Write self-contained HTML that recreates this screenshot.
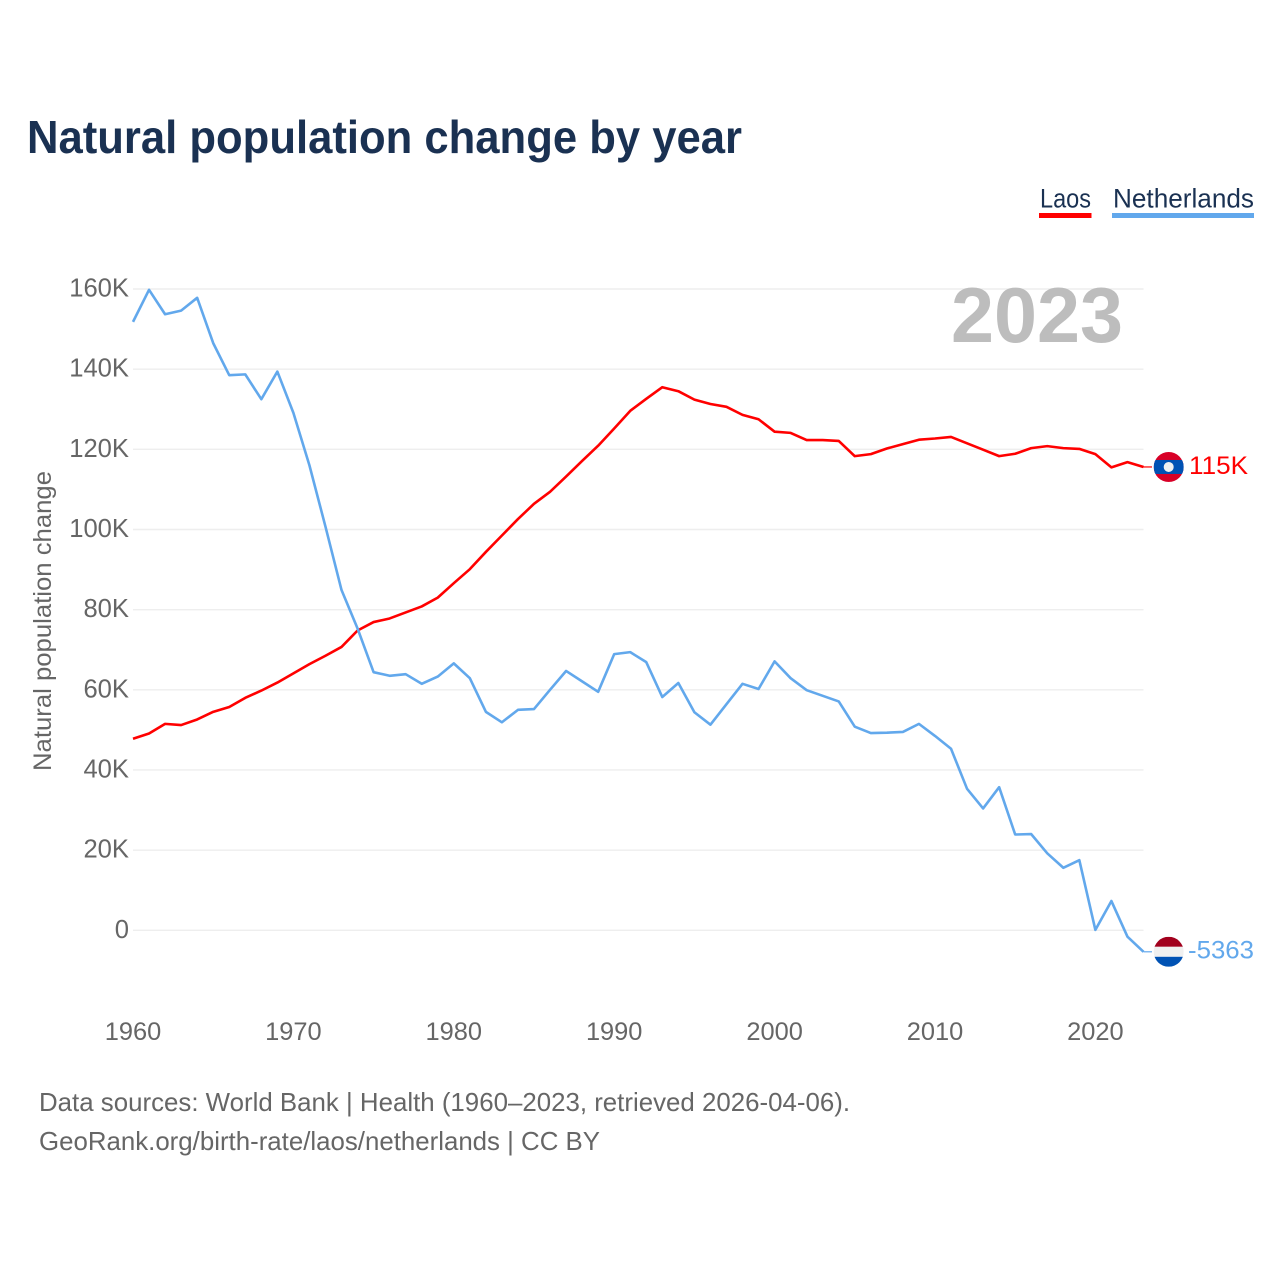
<!DOCTYPE html>
<html lang="en">
<head>
<meta charset="utf-8">
<title>Natural population change by year</title>
<style>
html,body{margin:0;padding:0;background:#fff;width:1280px;height:1280px;overflow:hidden}
svg{display:block}
text{font-family:"Liberation Sans",sans-serif}
</style>
</head>
<body>
<svg id="chart" width="1280" height="1280" viewBox="0 0 1280 1280" xmlns="http://www.w3.org/2000/svg">
  <defs>
    <clipPath id="flag-clip"><circle cx="0" cy="0" r="15"></circle></clipPath>
  </defs>
  <rect width="1280" height="1280" fill="#ffffff"></rect>
  <text x="27" y="153" font-size="46" font-weight="700" fill="#1a3152" textLength="715" lengthAdjust="spacingAndGlyphs">Natural population change by year</text>
  <g id="legend">
    <text x="1040" y="207.5" font-size="27" fill="#1a3152" textLength="51" lengthAdjust="spacingAndGlyphs">Laos</text>
    <rect x="1039" y="213" width="52.5" height="5" fill="#ff0000"></rect>
    <text x="1113" y="207.5" font-size="27" fill="#1a3152" textLength="141" lengthAdjust="spacingAndGlyphs">Netherlands</text>
    <rect x="1112" y="213" width="142" height="5" fill="#62a8ec"></rect>
  </g>
  <g id="grid"></g>
  <g id="y-axis"></g>
  <g id="x-axis"></g>
  <text x="951" y="342" font-size="78" font-weight="700" fill="#bdbdbd" textLength="172" lengthAdjust="spacingAndGlyphs">2023</text>
  <text transform="translate(51,621) rotate(-90)" text-anchor="middle" font-size="25" fill="#666666" textLength="300" lengthAdjust="spacingAndGlyphs">Natural population change</text>
  <g id="series"></g>
  <text x="39" y="1111" font-size="26" fill="#666666" textLength="811" lengthAdjust="spacingAndGlyphs">Data sources: World Bank | Health (1960–2023, retrieved 2026-04-06).</text>
  <text x="39" y="1150" font-size="26" fill="#666666" textLength="561" lengthAdjust="spacingAndGlyphs">GeoRank.org/birth-rate/laos/netherlands | CC BY</text>
</svg>
<script>
const years = [1960,1961,1962,1963,1964,1965,1966,1967,1968,1969,1970,1971,1972,1973,1974,1975,1976,1977,1978,1979,1980,1981,1982,1983,1984,1985,1986,1987,1988,1989,1990,1991,1992,1993,1994,1995,1996,1997,1998,1999,2000,2001,2002,2003,2004,2005,2006,2007,2008,2009,2010,2011,2012,2013,2014,2015,2016,2017,2018,2019,2020,2021,2022,2023];
const laosValues = [47800,49100,51500,51200,52600,54500,55700,58000,59800,61800,64100,66400,68500,70700,74800,76900,77800,79300,80800,83000,86600,90100,94400,98500,102600,106400,109400,113200,117100,120900,125200,129600,132600,135500,134500,132400,131300,130600,128600,127500,124400,124100,122300,122300,122100,118300,118800,120200,121300,122400,122700,123100,121500,119900,118300,118900,120300,120800,120300,120100,118800,115500,116800,115600];
const netherlandsValues = [151800,159800,153700,154600,157800,146500,138500,138700,132500,139400,129100,116000,100700,84900,75300,64400,63500,63900,61500,63300,66600,62900,54500,51900,55000,55200,60000,64700,62100,59500,68900,69400,66900,58200,61700,54400,51300,56400,61500,60200,67100,62900,59900,58500,57100,50800,49200,49300,49500,51500,48500,45300,35300,30400,35700,23900,24000,19200,15600,17500,100,7300,-1600,-5363];
const yTickValues = [0,20000,40000,60000,80000,100000,120000,140000,160000];
const yTickLabels = ["0","20K","40K","60K","80K","100K","120K","140K","160K"];
const xTickValues = [1960,1970,1980,1990,2000,2010,2020];
const laosLastLabel = "115K";
const netherlandsLastLabel = "-5363";

const SVG_NS = "http://www.w3.org/2000/svg";
function xScale(year){ return 133 + (year - 1960) * (1143.5 - 133) / 63; }
function yScale(value){ return 930.3 - value * (930.3 - 289) / 160000; }
function make(tag, parent, attrs){
  const el = document.createElementNS(SVG_NS, tag);
  Object.keys(attrs).forEach(function(k){ el.setAttribute(k, attrs[k]); });
  parent.appendChild(el);
  return el;
}
const gridGroup = document.getElementById("grid");
const yAxisGroup = document.getElementById("y-axis");
const xAxisGroup = document.getElementById("x-axis");
const seriesGroup = document.getElementById("series");

yTickValues.forEach(function(v, i){
  const line = make("line", gridGroup, {x1:133, x2:1143.5, y1:yScale(v), y2:yScale(v), stroke:"#eeeeee", "stroke-width":1.4});
  
  
  const label = make("text", yAxisGroup, {x:129, y:yScale(v)+7.5, "text-anchor":"end", "font-size":25.6, fill:"#666666"});
  
  
  label.textContent = yTickLabels[i];
});
xTickValues.forEach(function(t){
  const label = make("text", xAxisGroup, {x:xScale(t), y:1040, "text-anchor":"middle", "font-size":25.4, fill:"#666666"});
  
  
  label.textContent = String(t);
});
function linePoints(values){
  return values.map(function(v, i){ return xScale(years[i]).toFixed(2) + "," + yScale(v).toFixed(2); }).join(" ");
}
function drawFlag(parent, cy, stripes){
  const g = make("g", parent, {transform:"translate(1168.7," + cy + ")", "clip-path":"url(#flag-clip)"});
  stripes.forEach(function(s){
    make("rect", g, {x:-15, y:s[0], width:30, height:s[1], fill:s[2]});
  });
  return g;
}
/* Laos */
const laosLine = make("polyline", seriesGroup, {points:linePoints(laosValues), fill:"none", stroke:"#ff0000", "stroke-width":2.6, "stroke-linejoin":"round"});


const laosLastY = yScale(laosValues[laosValues.length - 1]);
const laosStub = make("line", seriesGroup, {x1:1143.5, x2:1152, y1:laosLastY, y2:laosLastY, stroke:"#ff0000", "stroke-width":1.2});


const laosFlag = drawFlag(seriesGroup, laosLastY, [[-15,30,"#d80027"],[-7,14,"#0052b4"]]);


make("circle", laosFlag, {cx:0, cy:0, r:5, fill:"#f0f0f0"});
const laosEnd = make("text", seriesGroup, {x:1189, y:laosLastY+7, "font-size":25, fill:"#ff0000", textLength:59, lengthAdjust:"spacingAndGlyphs"});


laosEnd.textContent = laosLastLabel;
/* Netherlands */
const nlLine = make("polyline", seriesGroup, {points:linePoints(netherlandsValues), fill:"none", stroke:"#62a8ec", "stroke-width":2.6, "stroke-linejoin":"round"});


const nlLastY = yScale(netherlandsValues[netherlandsValues.length - 1]);
const nlStub = make("line", seriesGroup, {x1:1143.5, x2:1152, y1:nlLastY, y2:nlLastY, stroke:"#62a8ec", "stroke-width":1.2});


const nlFlag = drawFlag(seriesGroup, nlLastY, [[-15,10,"#a2001d"],[-5,10,"#f0f0f0"],[5,10,"#0052b4"]]);


const nlEnd = make("text", seriesGroup, {x:1188, y:nlLastY+6.5, "font-size":25, fill:"#62a8ec", textLength:66, lengthAdjust:"spacingAndGlyphs"});


nlEnd.textContent = netherlandsLastLabel;
</script>
</body>
</html>
